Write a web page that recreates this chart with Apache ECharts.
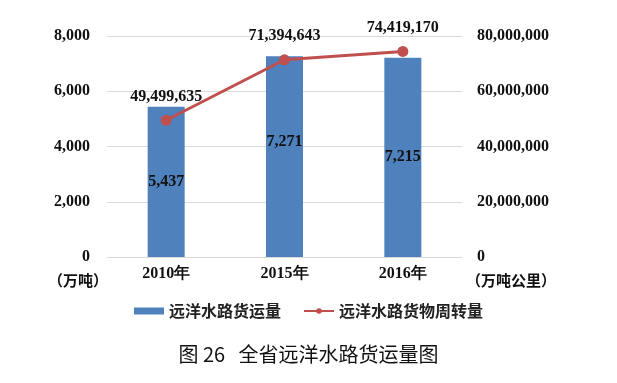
<!DOCTYPE html>
<html><head><meta charset="utf-8">
<script src="https://cdn.jsdelivr.net/npm/echarts@6/dist/echarts.min.js"></script>
<style>html,body{margin:0;padding:0;background:#fff}#c{width:617px;height:383px}</style>
</head><body><div id="c"></div>
<script>
var categories = ['2010年', '2015年', '2016年'];
var freightVolume = [5437, 7271, 7215];
var freightTurnover = [49499635, 71394643, 74419170];
var leftTicks = [0, 2000, 4000, 6000, 8000];
var rightTicks = [0, 20000000, 40000000, 60000000, 80000000];

var serif = '"Liberation Serif","Times New Roman",serif';
var cjk = '"Noto Sans CJK SC","Noto Sans",sans-serif';
function fmt(v){return String(v).replace(/\B(?=(\d{3})+(?!\d))/g, ',');}

var chart = echarts.init(document.getElementById('c'));
chart.setOption({
  animation: false,
  title: {
    text: '图 26   全省远洋水路货运量图',
    left: 'center', top: 339,
    textStyle: {fontFamily: cjk, fontSize: 20, fontWeight: 'normal', color: '#111'}
  },
  legend: {
    left: 'center', top: 298, itemGap: 22, itemWidth: 30, itemHeight: 7,
    textStyle: {fontFamily: cjk, fontSize: 16, fontWeight: 'bold', color: '#222'},
    data: [{name: '远洋水路货运量', icon: 'rect'}, {name: '远洋水路货物周转量'}]
  },
  grid: {left: 107, right: 155, top: 36, bottom: 126},
  xAxis: {
    type: 'category', data: categories,
    axisLine: {show: false}, axisTick: {show: false},
    axisLabel: {fontFamily: serif, fontSize: 16, fontWeight: 'bold', color: '#111', margin: 9}
  },
  yAxis: [{
    type: 'value', min: leftTicks[0], max: leftTicks[leftTicks.length-1], interval: 2000,
    axisLabel: {fontFamily: serif, fontSize: 16, fontWeight: 'bold', color: '#111', margin: 17, formatter: fmt},
    splitLine: {lineStyle: {color: '#d9d9d9'}}
  }, {
    type: 'value', min: rightTicks[0], max: rightTicks[rightTicks.length-1], interval: 20000000,
    axisLabel: {fontFamily: serif, fontSize: 16, fontWeight: 'bold', color: '#111', margin: 15, formatter: fmt},
    splitLine: {show: false}
  }],
  graphic: [
    {type: 'text', left: 48, top: 273, style: {text: '（万吨）', font: 'bold 15px ' + cjk, fill: '#111'}},
    {type: 'text', left: 466, top: 273, style: {text: '（万吨公里）', font: 'bold 15px ' + cjk, fill: '#111'}}
  ],
  series: [{
    name: '远洋水路货运量', type: 'bar', barWidth: 37, yAxisIndex: 0,
    itemStyle: {color: '#4F81BD'},
    label: {show: true, position: 'inside', fontFamily: serif, fontSize: 16, fontWeight: 'bold', color: '#111',
      formatter: function(p){return fmt(p.value);}},
    data: freightVolume.map(function(v, i){
      return i === 1 ? {value: v, label: {offset: [0, -15]}} : v;
    })
  }, {
    name: '远洋水路货物周转量', type: 'line', yAxisIndex: 1,
    symbol: 'circle', symbolSize: 11,
    lineStyle: {color: '#C0504D', width: 3},
    itemStyle: {color: '#C0504D'},
    label: {show: true, position: 'top', distance: 10, fontFamily: serif, fontSize: 16, fontWeight: 'bold', color: '#111',
      formatter: function(p){return fmt(p.value);}},
    data: freightTurnover
  }]
});
</script></body></html>
